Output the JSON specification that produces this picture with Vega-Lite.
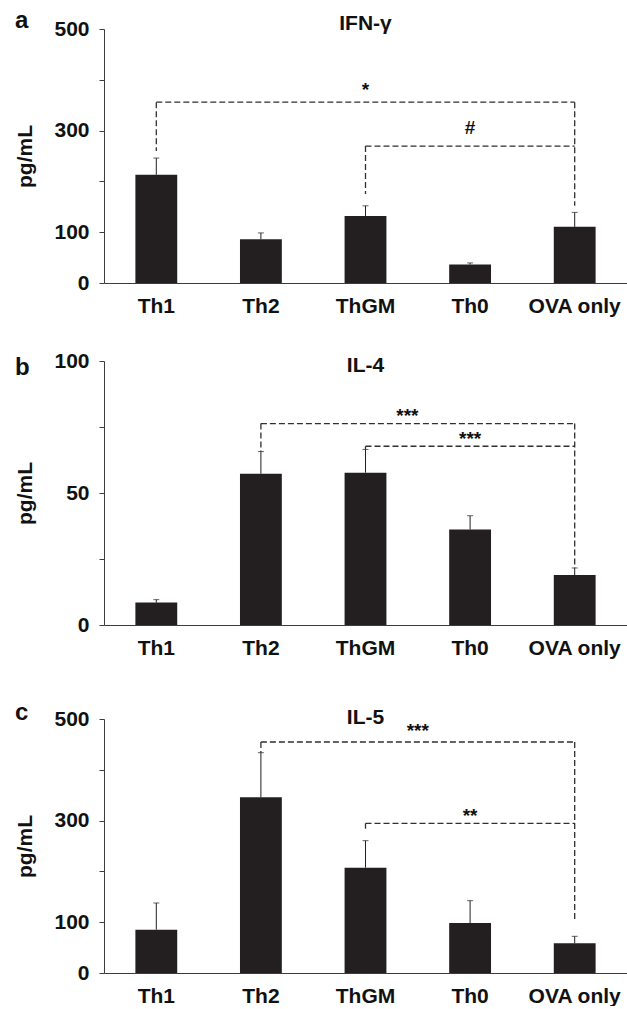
{
  "$schema": "https://vega.github.io/schema/vega-lite/v6.json",
  "padding": {"left": 14, "top": 9, "right": 0, "bottom": 0},
  "config": {
    "font": "Liberation Sans",
    "view": {"stroke": null},
    "axis": {"grid": false, "domainColor": "#3c3c3c", "tickColor": "#3c3c3c", "labelFont": "Liberation Sans", "labelFontSize": 21, "labelFontWeight": "bold", "labelColor": "#111111", "titleFont": "Liberation Sans", "titleFontSize": 21, "titleFontWeight": "bold", "titleColor": "#111111"},
    "axisX": {"ticks": false, "labelPadding": 12, "labelAngle": 0},
    "axisY": {"tickSize": 5, "labelPadding": 10, "titlePadding": 18},
    "title": {"font": "Liberation Sans", "fontWeight": "bold", "color": "#111111"}
  },
  "datasets": {
    "bars": [
      {"panel": "a", "group": "Th1", "value": 213, "err": 246},
      {"panel": "a", "group": "Th2", "value": 86, "err": 98.6},
      {"panel": "a", "group": "ThGM", "value": 132, "err": 152},
      {"panel": "a", "group": "Th0", "value": 36.3, "err": 39.5},
      {"panel": "a", "group": "OVA only", "value": 110.5, "err": 139},
      {"panel": "b", "group": "Th1", "value": 8.5, "err": 9.6},
      {"panel": "b", "group": "Th2", "value": 57.3, "err": 65.7},
      {"panel": "b", "group": "ThGM", "value": 57.7, "err": 66.5},
      {"panel": "b", "group": "Th0", "value": 36.2, "err": 41.4},
      {"panel": "b", "group": "OVA only", "value": 18.9, "err": 21.6},
      {"panel": "c", "group": "Th1", "value": 85.3, "err": 137.8},
      {"panel": "c", "group": "Th2", "value": 345.8, "err": 433.7},
      {"panel": "c", "group": "ThGM", "value": 207.3, "err": 260.5},
      {"panel": "c", "group": "Th0", "value": 98.4, "err": 142.4},
      {"panel": "c", "group": "OVA only", "value": 58.4, "err": 72.2}
    ],
    "brackets": [
      {"panel": "a", "from": "Th1", "to": "OVA only", "y": 356},
      {"panel": "a", "from": "ThGM", "to": "OVA only", "y": 269.6},
      {"panel": "b", "from": "Th2", "to": "OVA only", "y": 76.3},
      {"panel": "b", "from": "ThGM", "to": "OVA only", "y": 67.7},
      {"panel": "c", "from": "Th2", "to": "OVA only", "y": 454.7},
      {"panel": "c", "from": "ThGM", "to": "OVA only", "y": 294.6}
    ],
    "legs": [
      {"panel": "a", "group": "Th1", "top": 356, "bottom": 260},
      {"panel": "a", "group": "OVA only", "top": 356, "bottom": 152},
      {"panel": "a", "group": "ThGM", "top": 269.6, "bottom": 175},
      {"panel": "b", "group": "Th2", "top": 76.3, "bottom": 65.7},
      {"panel": "b", "group": "OVA only", "top": 76.3, "bottom": 21.6},
      {"panel": "b", "group": "ThGM", "top": 67.7, "bottom": 66.5},
      {"panel": "c", "group": "Th2", "top": 454.7, "bottom": 433.7},
      {"panel": "c", "group": "OVA only", "top": 454.7, "bottom": 106},
      {"panel": "c", "group": "ThGM", "top": 294.6, "bottom": 284}
    ],
    "sig": [
      {"panel": "a", "label": "*", "mid": 2, "y": 369},
      {"panel": "a", "label": "#", "mid": 3, "y": 293},
      {"panel": "b", "label": "***", "mid": 2.4, "y": 77},
      {"panel": "b", "label": "***", "mid": 3, "y": 68},
      {"panel": "c", "label": "***", "mid": 2.5, "y": 464},
      {"panel": "c", "label": "**", "mid": 3, "y": 297}
    ]
  },
  "spacing": 34,
  "vconcat": [
    {
      "title": {"text": "a", "anchor": "start", "frame": "bounds", "fontSize": 24, "offset": -20},
      "vconcat": [{
        "title": {"text": "IFN-γ", "anchor": "middle", "fontSize": 21, "offset": -16},
        "width": 523, "height": 254,
        "resolve": {"scale": {"x": "independent"}},
        "layer": [
          {"layer": [
            {"data": {"name": "bars"}, "transform": [{"filter": "datum.panel === 'a'"}],
             "mark": {"type": "bar", "color": "#231f20"},
             "encoding": {
               "x": {"field": "group", "type": "nominal", "sort": null, "title": null, "scale": {"domain": ["Th1", "Th2", "ThGM", "Th0", "OVA only"], "paddingInner": 0.6, "paddingOuter": 0.3}},
               "y": {"field": "value", "type": "quantitative", "title": "pg/mL", "scale": {"domain": [0, 500]}, "axis": {"values": [0, 100, 200, 300, 400, 500], "labelExpr": "datum.value == 200 || datum.value == 400 ? '' : datum.label"}}
             }},
            {"data": {"name": "bars"}, "transform": [{"filter": "datum.panel === 'a'"}],
             "mark": {"type": "rule", "color": "#231f20", "strokeWidth": 1},
             "encoding": {
               "x": {"field": "group", "type": "nominal", "sort": null},
               "y": {"field": "value", "type": "quantitative"}, "y2": {"field": "err"}
             }},
            {"data": {"name": "bars"}, "transform": [{"filter": "datum.panel === 'a'"}],
             "mark": {"type": "tick", "color": "#231f20", "size": 6, "thickness": 1},
             "encoding": {
               "x": {"field": "group", "type": "nominal", "sort": null},
               "y": {"field": "err", "type": "quantitative"}
             }},
            {"data": {"name": "brackets"}, "transform": [{"filter": "datum.panel === 'a'"}],
             "mark": {"type": "rule", "color": "#303030", "strokeWidth": 1.3, "strokeDash": [6, 3]},
             "encoding": {
               "x": {"field": "from", "type": "nominal", "sort": null},
               "x2": {"field": "to"},
               "y": {"field": "y", "type": "quantitative"}
             }},
            {"data": {"name": "legs"}, "transform": [{"filter": "datum.panel === 'a'"}],
             "mark": {"type": "rule", "color": "#303030", "strokeWidth": 1.3, "strokeDash": [6, 3]},
             "encoding": {
               "x": {"field": "group", "type": "nominal", "sort": null},
               "y": {"field": "top", "type": "quantitative"}, "y2": {"field": "bottom"}
             }}
          ]},
          {"data": {"name": "sig"}, "transform": [{"filter": "datum.panel === 'a'"}],
           "mark": {"type": "text", "fontSize": 19, "fontWeight": "bold", "baseline": "alphabetic", "color": "#111111", "clip": false},
           "encoding": {
             "x": {"field": "mid", "type": "quantitative", "scale": {"domain": [-0.5, 4.5]}, "axis": null},
             "y": {"field": "y", "type": "quantitative"},
             "text": {"field": "label"}
           }}
        ]
      }]
    },
    {
      "spacing": 43,
      "vconcat": [
        {
          "title": {"text": "b", "anchor": "start", "frame": "bounds", "fontSize": 24, "offset": -30},
          "vconcat": [{
            "title": {"text": "IL-4", "anchor": "middle", "fontSize": 21, "offset": -26},
            "width": 523, "height": 264,
            "resolve": {"scale": {"x": "independent"}},
            "layer": [
              {"layer": [
                {"data": {"name": "bars"}, "transform": [{"filter": "datum.panel === 'b'"}],
                 "mark": {"type": "bar", "color": "#231f20"},
                 "encoding": {
                   "x": {"field": "group", "type": "nominal", "sort": null, "title": null, "scale": {"domain": ["Th1", "Th2", "ThGM", "Th0", "OVA only"], "paddingInner": 0.6, "paddingOuter": 0.3}},
                   "y": {"field": "value", "type": "quantitative", "title": "pg/mL", "scale": {"domain": [0, 100]}, "axis": {"values": [0, 25, 50, 75, 100], "labelExpr": "datum.value == 25 || datum.value == 75 ? '' : datum.label"}}
                 }},
                {"data": {"name": "bars"}, "transform": [{"filter": "datum.panel === 'b'"}],
                 "mark": {"type": "rule", "color": "#231f20", "strokeWidth": 1},
                 "encoding": {
                   "x": {"field": "group", "type": "nominal", "sort": null},
                   "y": {"field": "value", "type": "quantitative"}, "y2": {"field": "err"}
                 }},
                {"data": {"name": "bars"}, "transform": [{"filter": "datum.panel === 'b'"}],
                 "mark": {"type": "tick", "color": "#231f20", "size": 6, "thickness": 1},
                 "encoding": {
                   "x": {"field": "group", "type": "nominal", "sort": null},
                   "y": {"field": "err", "type": "quantitative"}
                 }},
                {"data": {"name": "brackets"}, "transform": [{"filter": "datum.panel === 'b'"}],
                 "mark": {"type": "rule", "color": "#303030", "strokeWidth": 1.3, "strokeDash": [6, 3]},
                 "encoding": {
                   "x": {"field": "from", "type": "nominal", "sort": null},
                   "x2": {"field": "to"},
                   "y": {"field": "y", "type": "quantitative"}
                 }},
                {"data": {"name": "legs"}, "transform": [{"filter": "datum.panel === 'b'"}],
                 "mark": {"type": "rule", "color": "#303030", "strokeWidth": 1.3, "strokeDash": [6, 3]},
                 "encoding": {
                   "x": {"field": "group", "type": "nominal", "sort": null},
                   "y": {"field": "top", "type": "quantitative"}, "y2": {"field": "bottom"}
                 }}
              ]},
              {"data": {"name": "sig"}, "transform": [{"filter": "datum.panel === 'b'"}],
               "mark": {"type": "text", "fontSize": 19, "fontWeight": "bold", "baseline": "alphabetic", "color": "#111111", "clip": false},
               "encoding": {
                 "x": {"field": "mid", "type": "quantitative", "scale": {"domain": [-0.5, 4.5]}, "axis": null},
                 "y": {"field": "y", "type": "quantitative"},
                 "text": {"field": "label"}
               }}
            ]
          }]
        },
        {
          "title": {"text": "c", "anchor": "start", "frame": "bounds", "fontSize": 24, "offset": -18},
          "vconcat": [{
            "title": {"text": "IL-5", "anchor": "middle", "fontSize": 21, "offset": -20},
            "width": 523, "height": 254,
            "resolve": {"scale": {"x": "independent"}},
            "layer": [
              {"layer": [
                {"data": {"name": "bars"}, "transform": [{"filter": "datum.panel === 'c'"}],
                 "mark": {"type": "bar", "color": "#231f20"},
                 "encoding": {
                   "x": {"field": "group", "type": "nominal", "sort": null, "title": null, "scale": {"domain": ["Th1", "Th2", "ThGM", "Th0", "OVA only"], "paddingInner": 0.6, "paddingOuter": 0.3}},
                   "y": {"field": "value", "type": "quantitative", "title": "pg/mL", "scale": {"domain": [0, 500]}, "axis": {"values": [0, 100, 200, 300, 400, 500], "labelExpr": "datum.value == 200 || datum.value == 400 ? '' : datum.label"}}
                 }},
                {"data": {"name": "bars"}, "transform": [{"filter": "datum.panel === 'c'"}],
                 "mark": {"type": "rule", "color": "#231f20", "strokeWidth": 1},
                 "encoding": {
                   "x": {"field": "group", "type": "nominal", "sort": null},
                   "y": {"field": "value", "type": "quantitative"}, "y2": {"field": "err"}
                 }},
                {"data": {"name": "bars"}, "transform": [{"filter": "datum.panel === 'c'"}],
                 "mark": {"type": "tick", "color": "#231f20", "size": 6, "thickness": 1},
                 "encoding": {
                   "x": {"field": "group", "type": "nominal", "sort": null},
                   "y": {"field": "err", "type": "quantitative"}
                 }},
                {"data": {"name": "brackets"}, "transform": [{"filter": "datum.panel === 'c'"}],
                 "mark": {"type": "rule", "color": "#303030", "strokeWidth": 1.3, "strokeDash": [6, 3]},
                 "encoding": {
                   "x": {"field": "from", "type": "nominal", "sort": null},
                   "x2": {"field": "to"},
                   "y": {"field": "y", "type": "quantitative"}
                 }},
                {"data": {"name": "legs"}, "transform": [{"filter": "datum.panel === 'c'"}],
                 "mark": {"type": "rule", "color": "#303030", "strokeWidth": 1.3, "strokeDash": [6, 3]},
                 "encoding": {
                   "x": {"field": "group", "type": "nominal", "sort": null},
                   "y": {"field": "top", "type": "quantitative"}, "y2": {"field": "bottom"}
                 }}
              ]},
              {"data": {"name": "sig"}, "transform": [{"filter": "datum.panel === 'c'"}],
               "mark": {"type": "text", "fontSize": 19, "fontWeight": "bold", "baseline": "alphabetic", "color": "#111111", "clip": false},
               "encoding": {
                 "x": {"field": "mid", "type": "quantitative", "scale": {"domain": [-0.5, 4.5]}, "axis": null},
                 "y": {"field": "y", "type": "quantitative"},
                 "text": {"field": "label"}
               }}
            ]
          }]
        }
      ]
    }
  ]
}
